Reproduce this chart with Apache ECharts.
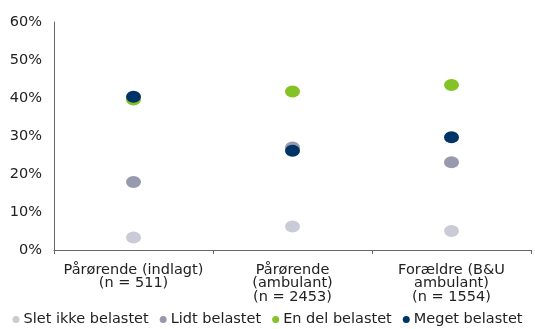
<!DOCTYPE html>
<html>
<head>
<meta charset="utf-8">
<script src="https://cdn.jsdelivr.net/npm/echarts@6/dist/echarts.min.js"></script>
<style>
  html, body { margin: 0; padding: 0; background: #fff; }
  #chart { width: 535px; height: 329px; }
</style>
</head>
<body>
<div id="chart"></div>
<script>
// Categories (respondent groups) and share per burden level, in percent
const categories = [
  'Pårørende (indlagt)\n(n = 511)',
  'Pårørende\n(ambulant)\n(n = 2453)',
  'Forældre (B&U\nambulant)\n(n = 1554)'
];
const sletIkke = [3.3, 6.2, 5.0];
const lidt = [17.9, 27.0, 23.1];
const enDel = [39.6, 41.7, 43.4];
const meget = [40.3, 26.1, 29.7];
const yTicks = [0, 10, 20, 30, 40, 50, 60];

const seriesDefs = [
  { name: 'Slet ikke belastet', data: sletIkke, color: '#c9cbd6' },
  { name: 'Lidt belastet', data: lidt, color: '#9799ae' },
  { name: 'En del belastet', data: enDel, color: '#84c225' },
  { name: 'Meget belastet', data: meget, color: '#003366' }
];

const font = '"DejaVu Sans", Verdana, sans-serif';
const chart = echarts.init(document.getElementById('chart'), null, { renderer: 'canvas' });
chart.setOption({
  animation: false,
  grid: { left: 54, right: 4, top: 22, bottom: 79 },
  legend: {
    top: 312,
    left: 'center',
    icon: 'circle',
    itemWidth: 7,
    itemHeight: 7,
    itemGap: 11,
    padding: 0,
    textStyle: { fontFamily: font, fontSize: 14.5, color: '#222', padding: [0, 0, 0, -1] },
    data: seriesDefs.map(s => s.name)
  },
  xAxis: {
    type: 'category',
    data: categories,
    boundaryGap: true,
    axisLine: { lineStyle: { color: '#666', width: 1 } },
    axisTick: { show: true, length: 4, lineStyle: { color: '#666' } },
    axisLabel: { fontFamily: font, fontSize: 14.5, color: '#222', lineHeight: 13.5, margin: 13, interval: 0 }
  },
  yAxis: {
    type: 'value',
    min: yTicks[0],
    max: yTicks[yTicks.length - 1],
    interval: 10,
    splitLine: { show: false },
    axisLine: { show: true, lineStyle: { color: '#666', width: 1 } },
    axisTick: { show: false },
    axisLabel: { fontFamily: font, fontSize: 14.5, color: '#222', margin: 12, formatter: v => v + '%' }
  },
  series: seriesDefs.map(s => ({
    name: s.name,
    type: 'scatter',
    data: s.data,
    symbol: 'circle',
    symbolSize: [15, 12],
    itemStyle: { color: s.color, opacity: 1 }
  }))
});
</script>
</body>
</html>
